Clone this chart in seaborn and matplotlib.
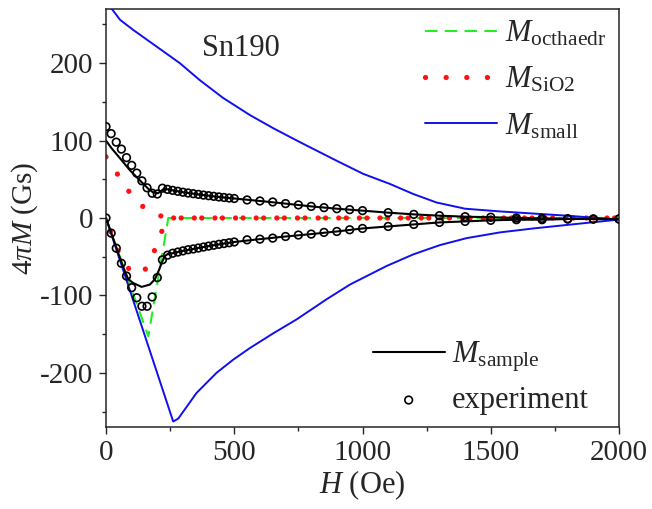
import numpy as np
import pandas as pd
import matplotlib
matplotlib.use("Agg")
import matplotlib.pyplot as plt
import seaborn as sns

# ---------------- data ----------------
H_small_up = [0, 55, 106, 178, 250, 288, 366, 457, 561, 652, 756, 899, 1003, 1107, 1198, 1289, 1400, 1536, 1796, 2000]
M_small_up = [280, 256, 243, 226, 209, 200, 178, 155, 133, 116, 98, 74, 57, 44, 31, 20, 12, 8.5, 3, -2]
H_small_dn = [0, 262, 282, 353, 431, 496, 561, 652, 743, 860, 951, 1094, 1198, 1302, 1406, 1536, 1666, 1796, 2000]
M_small_dn = [0, -263, -259, -226, -200, -183, -168, -149, -131, -105, -86, -62, -47, -35, -26, -18.6, -13.5, -9, -2]

H_oct = [0, 165, 243, 2000]
M_oct = [0, -153, 0, 0]

H_sio_up = [0, 48, 96, 152, 210, 240, 2000]
M_sio_up = [79, 55, 31, 12, 3, 0, 0]
H_sio_dn = [0, 30, 60, 90, 120, 150, 180, 210, 240, 2000]
M_sio_dn = [0, -30, -52, -66, -73, -68, -50, -23, 0, 0]

H_exp = [0, 20, 40, 60, 80, 100, 120, 140, 160, 180, 200, 220, 240, 260, 280, 300, 320, 340, 360, 380,
         400, 420, 440, 460, 480, 500, 550, 600, 650, 700, 750, 800, 850, 900, 950, 1000,
         1100, 1200, 1300, 1400, 1500, 1600, 1700, 1800, 1900, 2000]
M_exp_up = [118, 109, 98, 89, 78, 68, 58, 48, 39, 32, 31, 38.5, 37, 35.7, 34.5, 33.3, 32.3, 31.4, 30.5, 29.6,
            28.8, 28, 27.2, 26.5, 25.8, 25.2, 23.3, 22, 20.7, 18.6, 16.9, 15, 13.4, 12, 10.8, 9.5,
            6.9, 4.7, 3, 1.7, 1, 0, -0.5, -1, -1.3, -1.3]
M_exp_dn = [0, -19.5, -39, -58.5, -75, -90, -103, -114, -114, -102, -77, -54, -48, -45.5, -44, -42.5, -41, -40, -38.8, -37.5,
            -36.3, -35.2, -34, -33, -32, -31, -28.2, -27.3, -26, -23.9, -22, -20.8, -18.6, -17.4, -15.2, -13.5,
            -10.9, -8.3, -5.7, -4.4, -3, -2.2, -2.2, -1.3, -1.3, -1.3]

H_fit_up = [0, 22, 55, 94, 126, 165, 184, 203, 225, 243, 260, 300, 340, 380, 420, 460, 500, 600, 700, 800,
            900, 1000, 1100, 1200, 1300, 1400, 1500, 1600, 1700, 1800, 1900, 2000]
M_fit_up = [100, 90, 77, 61.4, 50.6, 37.7, 33, 32, 37.5, 37, 35.7, 33.3, 31.4, 29.6, 28, 26.5, 25.2, 22, 18.6, 15,
            12, 9.5, 6.9, 4.7, 3, 1.7, 1, 0, -0.5, -1, -1.3, -1.3]
H_fit_dn = [0, 20, 40, 60, 80, 87, 106, 139, 171, 191, 208, 217, 230, 243, 260, 300, 340, 380, 420, 460,
            500, 600, 700, 800, 900, 1000, 1100, 1200, 1300, 1400, 1500, 1600, 1700, 1800, 1900, 2000]
M_fit_dn = [0, -19, -38, -57, -74, -79, -84, -89, -86, -79, -66, -58, -49, -46, -45.5, -42.5, -40, -37.5, -35.2, -33,
            -31, -27.3, -23.9, -20.8, -17.4, -13.5, -10.9, -8.3, -5.7, -4.4, -3, -2.2, -2.2, -1.3, -1.3, -1.3]

x_ticks = [0, 500, 1000, 1500, 2000]
y_ticks = [-200, -100, 0, 100, 200]
legend_labels_1 = [r"$M_{\mathrm{octhaedr}}$", r"$M_{\mathrm{SiO2}}$", r"$M_{\mathrm{small}}$"]
legend_labels_2 = [r"$M_{\mathrm{sample}}$", "experiment"]

# ---------------- style ----------------
sns.set_style("ticks")
plt.rcParams["font.family"] = ["Liberation Serif", "DejaVu Serif"]
plt.rcParams["mathtext.fontset"] = "custom"
plt.rcParams["mathtext.rm"] = "Liberation Serif"
plt.rcParams["mathtext.it"] = "Liberation Serif:italic"
plt.rcParams["mathtext.bf"] = "Liberation Serif:bold"
plt.rcParams["axes.unicode_minus"] = False

fig = plt.figure(figsize=(6.52, 5.09), dpi=100)
ax = fig.add_axes([106 / 652, 1 - 427 / 509, 513 / 652, 418 / 509])

green = "#22ee22"
red = "#ff1111"
blue = "#1010ee"

sns.lineplot(x=H_oct, y=M_oct, ax=ax, sort=False, estimator=None, color=green,
             lw=1.5, linestyle=(0, (6, 3.5)))
l_oct = ax.get_lines()[-1]
sns.lineplot(x=H_sio_up, y=M_sio_up, ax=ax, sort=False, estimator=None, color=red,
             lw=3.8, linestyle=(0, (0.01, 3.9)), dash_capstyle="round")
l_sio = ax.get_lines()[-1]
sns.lineplot(x=H_sio_dn, y=M_sio_dn, ax=ax, sort=False, estimator=None, color=red,
             lw=3.8, linestyle=(1.2, (0.01, 3.9)), dash_capstyle="round")
sns.lineplot(x=H_small_up, y=M_small_up, ax=ax, sort=False, estimator=None, color=blue, lw=1.4)
l_small = ax.get_lines()[-1]
sns.lineplot(x=H_small_dn, y=M_small_dn, ax=ax, sort=False, estimator=None, color=blue, lw=1.4)
sns.lineplot(x=H_fit_up, y=M_fit_up, ax=ax, sort=False, estimator=None, color="black", lw=1.5)
l_fit = ax.get_lines()[-1]
sns.lineplot(x=H_fit_dn, y=M_fit_dn, ax=ax, sort=False, estimator=None, color="black", lw=1.5)

df_exp = pd.DataFrame({"H": H_exp + H_exp, "M": M_exp_up + M_exp_dn})
sns.scatterplot(data=df_exp, x="H", y="M", ax=ax, marker="o", s=30,
                facecolor="none", edgecolor="black", linewidth=1.2, zorder=5)
l_exp = ax.collections[-1]

ax.set_xlim(0, 2000)
ax.set_ylim(-270, 270)
ax.set_xticks(x_ticks)
ax.set_yticks(y_ticks)
ax.set_xticks(np.arange(0, 2001, 250), minor=True)
ax.set_yticks(np.arange(-250, 251, 50), minor=True)
ax.tick_params(which="major", direction="out", length=5, width=1.0, labelsize=21, pad=4,
               top=False, right=False)
ax.tick_params(which="minor", direction="out", length=2.7, width=1.0, top=False, right=False)
for s in ax.spines.values():
    s.set_linewidth(1.1)
    s.set_visible(True)

ax.set_xlabel(r"$H$ (Oe)", fontsize=22, labelpad=2)
ax.set_ylabel(r"$4\pi M$ (Gs)", fontsize=21, labelpad=0)

ax.text(0.188, 0.905, "Sn190", transform=ax.transAxes, fontsize=22, ha="left", va="center")

leg1 = ax.legend([l_oct, l_sio, l_small], legend_labels_1, loc="upper left",
                 bbox_to_anchor=(0.622, 0.976), frameon=False, fontsize=22,
                 handlelength=2.35, handletextpad=0.25, labelspacing=0.55,
                 borderaxespad=0.0, borderpad=0.0)
ax.add_artist(leg1)
leg2 = ax.legend([l_fit, l_exp], legend_labels_2, loc="upper left",
                 bbox_to_anchor=(0.52, 0.210), frameon=False, fontsize=22,
                 handlelength=2.35, handletextpad=0.25, labelspacing=0.4,
                 borderaxespad=0.0, borderpad=0.0, scatterpoints=1)

fig.savefig("out.png", dpi=100)
